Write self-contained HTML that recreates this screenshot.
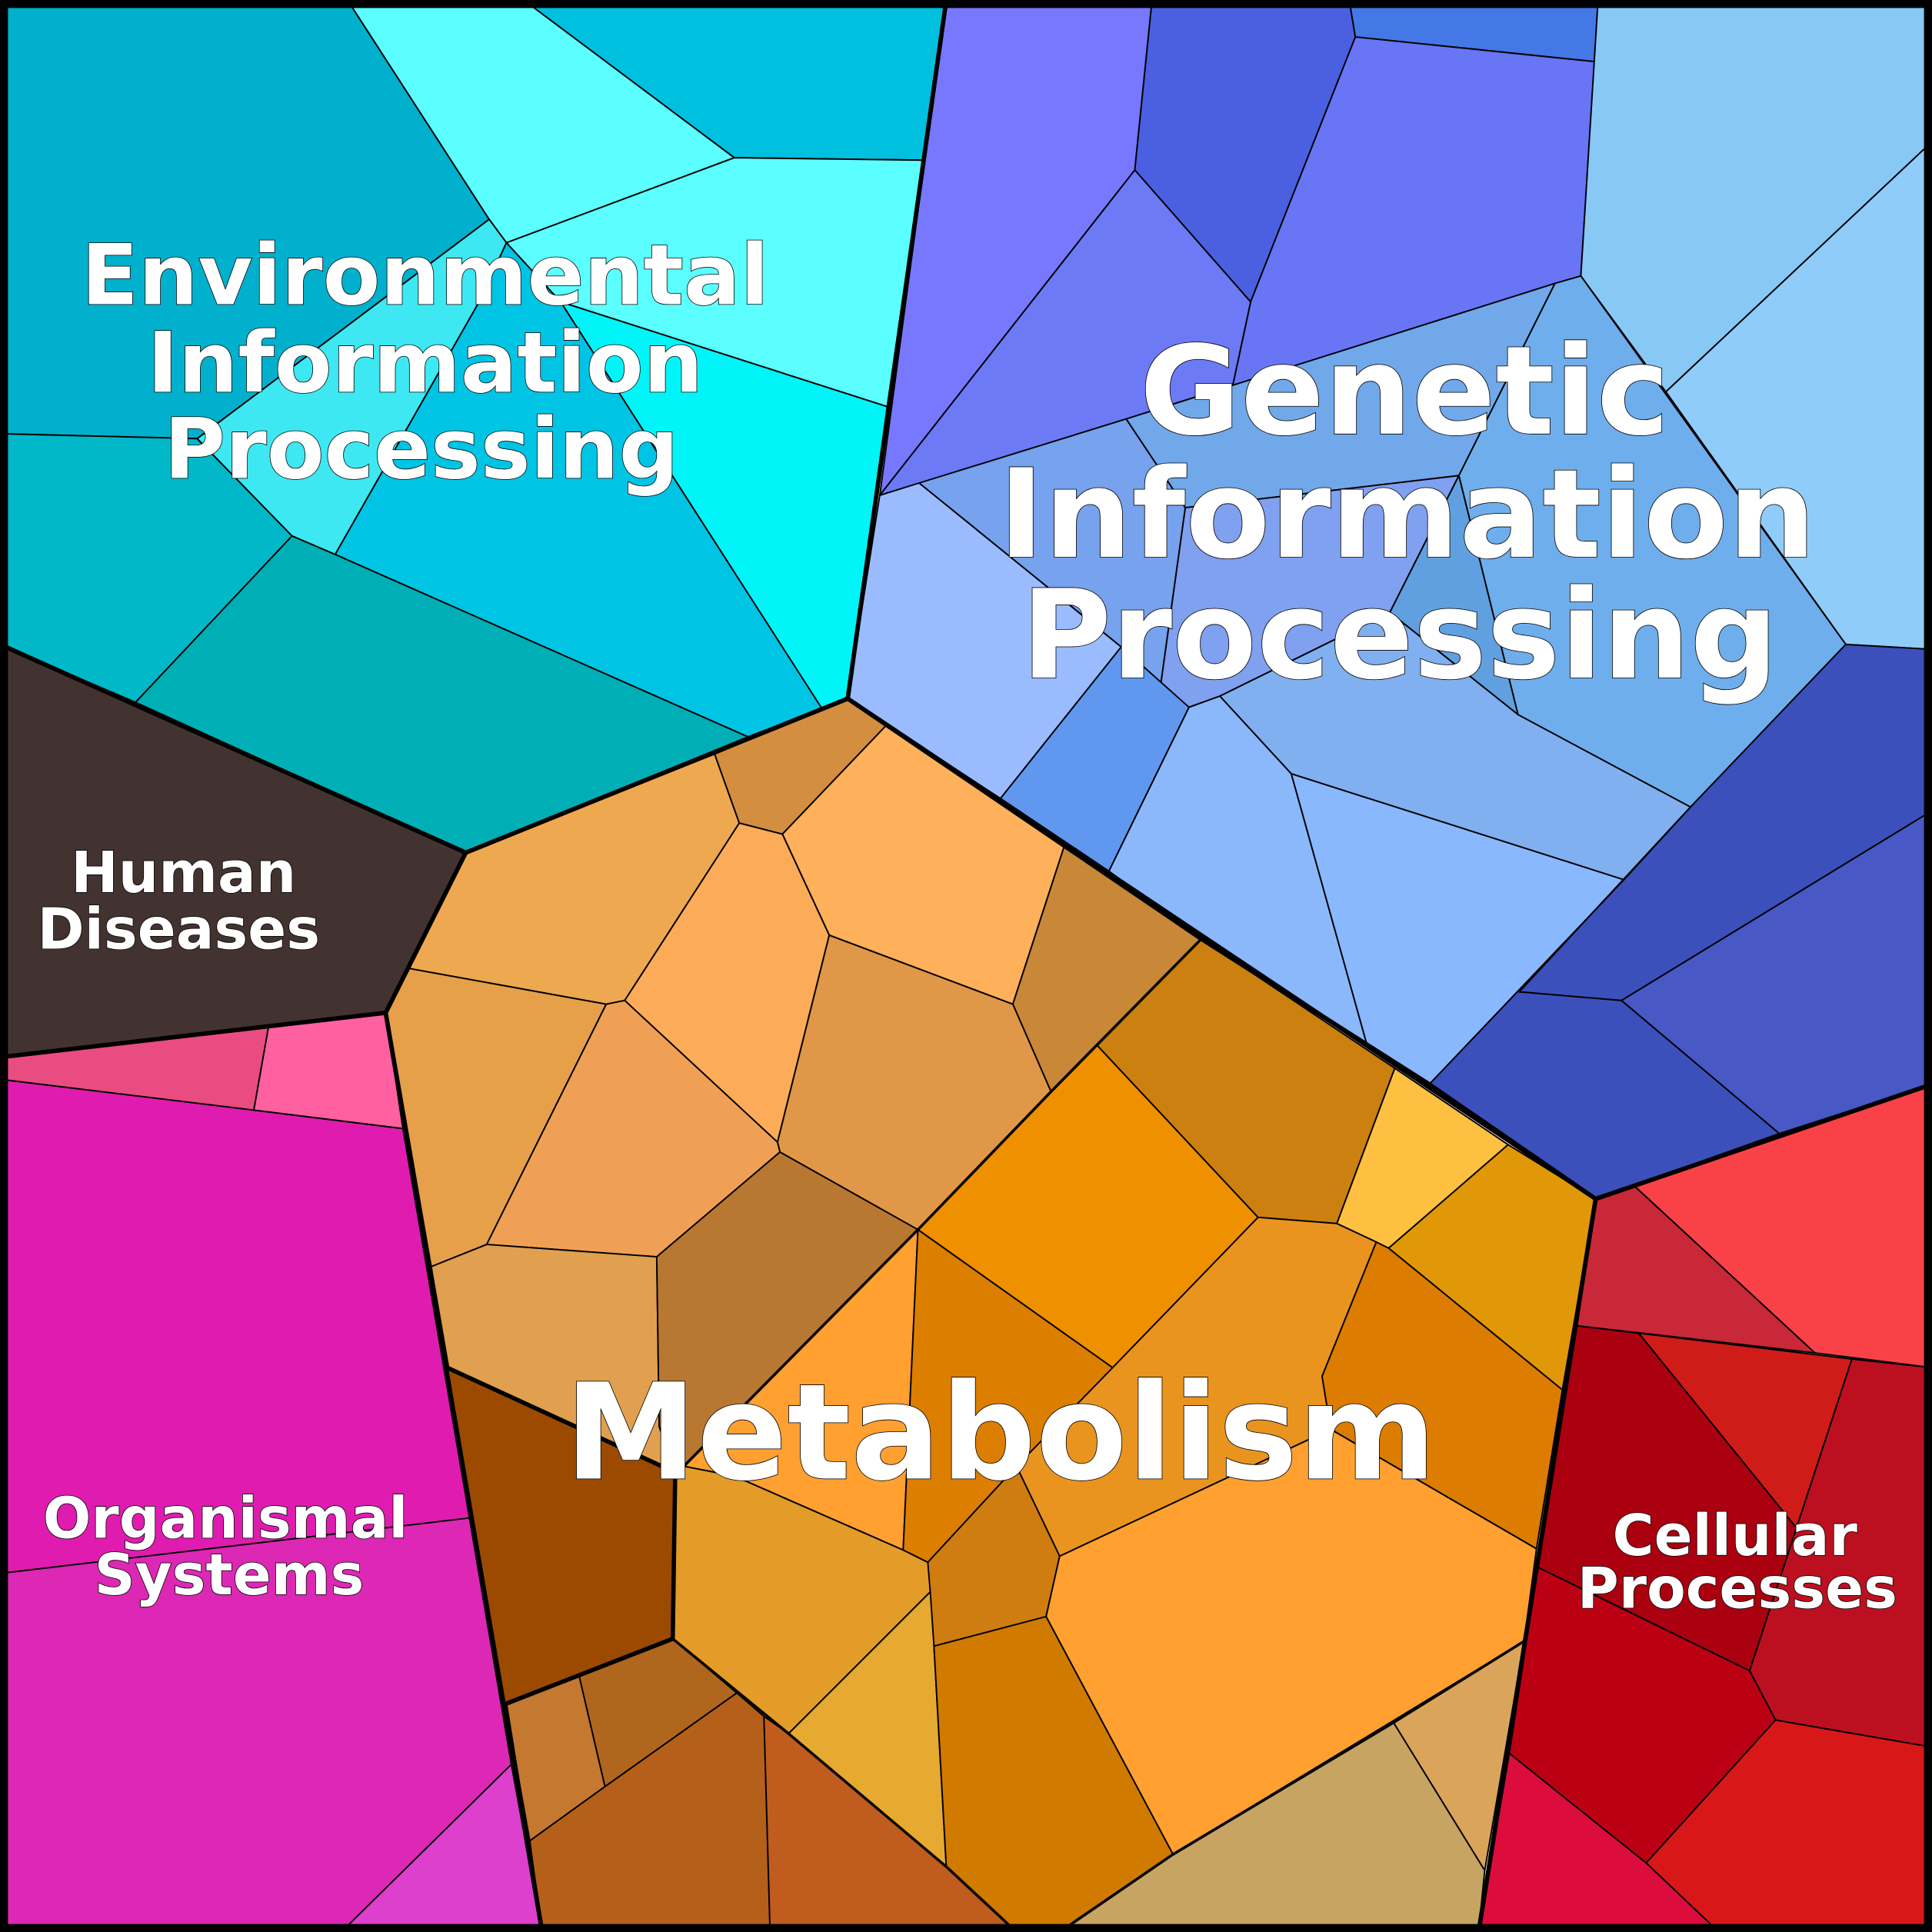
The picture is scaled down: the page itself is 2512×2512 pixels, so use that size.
<!DOCTYPE html>
<html><head><meta charset="utf-8"><style>
html,body{margin:0;padding:0;background:#fff}
svg{display:block}
.c polygon{stroke:#000;stroke-width:1.2;stroke-linejoin:round}
.m polygon{fill:none;stroke:#000;stroke-width:3.5;stroke-linejoin:round}
.m polyline{fill:none;stroke:#000;stroke-width:2.2;stroke-linejoin:round}
text{font-family:"DejaVu Sans","Liberation Sans",sans-serif;font-weight:bold;fill:#fff;stroke:#000;stroke-width:1;paint-order:stroke;text-anchor:middle}
</style></head><body>
<svg width="2512" height="2512" viewBox="0 0 1568 1568" xmlns="http://www.w3.org/2000/svg">
<g class="c">
<polygon fill="#00b0cc" points="0,0 282,0 397,178 160,356 0,352"/>
<polygon fill="#5cffff" points="282,0 425,0 596,128 411,197 397,178"/>
<polygon fill="#00c0e0" points="425,0 768,0 749,130 596,128"/>
<polygon fill="#5cffff" points="411,197 596,128 749,130 720,330 455,245"/>
<polygon fill="#00f5f8" points="455,245 720,330 688,567 667,575"/>
<polygon fill="#3de8f2" points="160,356 397,178 411,197 390,243 272,450 237,435"/>
<polygon fill="#00c4e4" points="390,243 411,197 455,245 667,575 607,598 272,450"/>
<polygon fill="#00b8c8" points="0,352 160,356 237,435 110,570 0,523"/>
<polygon fill="#00afb5" points="237,435 272,450 607,598 378,692 110,570"/>
<polygon fill="#7878ff" points="768,0 935,0 921,138 714,402"/>
<polygon fill="#4b60e0" points="935,0 1095,0 1100,30 1015,245 921,138"/>
<polygon fill="#4378e6" points="1095,0 1297,0 1294,50 1100,30"/>
<polygon fill="#6875f5" points="1100,30 1294,50 1283,224 1000,315 1015,245"/>
<polygon fill="#6c7af5" points="921,138 1015,245 1000,315 714,402"/>
<polygon fill="#88c8f5" points="1297,0 1568,0 1568,115 1352,318 1283,224"/>
<polygon fill="#90ccfa" points="1568,115 1568,527 1498,523 1352,318"/>
<polygon fill="#9abcff" points="714,402 746,392 910,525 812,648 688,567"/>
<polygon fill="#76a2ee" points="746,392 914,340 962,412 942,556 910,525"/>
<polygon fill="#70a8ea" points="914,340 1262,230 1184,386 962,412"/>
<polygon fill="#80a0f0" points="962,412 1184,386 1128,497 990,565 965,574 942,556"/>
<polygon fill="#6faeec" points="1262,230 1283,224 1498,523 1372,655 1232,580 1184,386"/>
<polygon fill="#60a0e0" points="1184,386 1232,580 1128,497"/>
<polygon fill="#80b0f0" points="990,565 1128,497 1232,580 1372,655 1318,714 1048,628"/>
<polygon fill="#6098f0" points="910,525 965,574 900,707 812,648"/>
<polygon fill="#8ab8fa" points="965,574 990,565 1048,628 1110,850 975,762 900,707"/>
<polygon fill="#8ab8ff" points="1048,628 1318,714 1160,880 1110,850"/>
<polygon fill="#3c50bc" points="1372,655 1498,523 1568,527 1568,658 1316,812 1233,805"/>
<polygon fill="#4858c4" points="1568,658 1568,880 1444,920 1316,812"/>
<polygon fill="#3c50bc" points="1233,805 1316,812 1444,920 1295,973 1160,880 1318,714 1372,655"/>
<polygon fill="#c82838" points="1295,973 1327,963 1473,1098 1280,1076"/>
<polygon fill="#f84248" points="1327,963 1568,880 1568,1110 1473,1098"/>
<polygon fill="#aa0010" points="1280,1076 1330,1082 1458,1240 1420,1356 1248,1272"/>
<polygon fill="#d01c18" points="1330,1082 1503,1103 1458,1240"/>
<polygon fill="#bc1020" points="1503,1103 1568,1110 1568,1418 1441,1396 1420,1356"/>
<polygon fill="#bc0014" points="1248,1272 1420,1356 1441,1396 1336,1512 1225,1423"/>
<polygon fill="#d81818" points="1441,1396 1568,1418 1568,1568 1395,1568 1336,1512"/>
<polygon fill="#dc0c3c" points="1225,1423 1336,1512 1395,1568 1200,1568"/>
<polygon fill="#433330" points="0,523 378,692 313,822 0,858"/>
<polygon fill="#e84c80" points="0,858 218,833 206,901 0,876"/>
<polygon fill="#ff60a0" points="218,833 313,822 327,916 206,901"/>
<polygon fill="#e01cb0" points="0,876 206,901 327,916 381,1232 0,1277"/>
<polygon fill="#dc28b4" points="0,1277 381,1232 415,1432 277,1568 0,1568"/>
<polygon fill="#dc40cc" points="415,1432 440,1568 277,1568"/>
<polygon fill="#eea850" points="378,692 580,612 600,668 507,812 492,815 332,786"/>
<polygon fill="#d48e40" points="580,612 688,567 719,589 635,677 600,668"/>
<polygon fill="#ffb05a" points="719,589 864,686 822,815 673,759 635,677"/>
<polygon fill="#fcac58" points="600,668 635,677 673,759 631,927 507,812"/>
<polygon fill="#c88838" points="864,686 975,762 853,886 822,815"/>
<polygon fill="#e09848" points="673,759 822,815 853,886 745,998 633,935 631,927"/>
<polygon fill="#e6a04a" points="332,786 492,815 395,1010 350,1028 313,822"/>
<polygon fill="#f0a055" points="492,815 507,812 631,927 633,935 533,1020 395,1010"/>
<polygon fill="#e0a050" points="350,1028 395,1010 533,1020 535,1158 548,1195 363,1110"/>
<polygon fill="#b87832" points="533,1020 633,935 745,998 555,1190 535,1158"/>
<polygon fill="#9c4a00" points="363,1110 548,1195 546,1330 410,1383"/>
<polygon fill="#cc8010" points="975,762 1132,867 1085,993 1021,988 890,848"/>
<polygon fill="#ee9000" points="890,848 1021,988 903,1110 745,998"/>
<polygon fill="#fdc040" points="1132,867 1224,929 1127,1013 1085,993"/>
<polygon fill="#e09808" points="1224,929 1295,973 1268,1128 1127,1013"/>
<polygon fill="#ea9420" points="1021,988 1085,993 1117,1008 1073,1117 1080,1160 860,1263 825,1190 903,1110"/>
<polygon fill="#dc7c00" points="1117,1008 1127,1013 1268,1128 1247,1257 1080,1160 1073,1117"/>
<polygon fill="#ffa030" points="745,998 733,1258 596,1198 555,1190"/>
<polygon fill="#dc7e00" points="745,998 903,1110 825,1190 753,1268 733,1258"/>
<polygon fill="#cf7d10" points="753,1268 825,1190 860,1263 849,1312 758,1336"/>
<polygon fill="#ffa030" points="860,1263 1080,1160 1247,1257 1237,1332 952,1505 849,1312"/>
<polygon fill="#e39c28" points="548,1195 555,1190 596,1198 733,1258 753,1268 755,1292 640,1407 546,1330"/>
<polygon fill="#e6aa30" points="755,1292 758,1336 768,1515 640,1407"/>
<polygon fill="#d07a00" points="758,1336 849,1312 952,1505 860,1568 825,1568 768,1515"/>
<polygon fill="#c8a462" points="952,1505 1131,1398 1205,1518 1200,1568 860,1568"/>
<polygon fill="#daa55a" points="1131,1398 1237,1332 1205,1518"/>
<polygon fill="#c47830" points="410,1383 470,1360 491,1450 430,1494"/>
<polygon fill="#b0661c" points="470,1360 546,1330 598,1374 491,1450"/>
<polygon fill="#b4601a" points="430,1494 491,1450 598,1374 620,1393 625,1568 440,1568"/>
<polygon fill="#c05c1e" points="620,1393 640,1407 768,1515 825,1568 625,1568"/>
</g>
<g class="m">
<polygon points="0,0 768,0 688,567 378,692 0,523"/>
<polygon points="0,523 378,692 313,822 0,858"/>
<polygon points="0,858 313,822 440,1568 0,1568"/>
<polygon points="378,692 688,567 975,762 1160,880 1295,973 1200,1568 440,1568 410,1383 546,1330 548,1195 363,1110 313,822"/>
<polygon points="768,0 1568,0 1568,880 1295,973 688,567"/>
<polygon points="1295,973 1568,880 1568,1568 1200,1568"/>
<polyline points="975,762 853,886 745,998 555,1190 548,1195"/>
<polyline points="546,1330 640,1407 768,1515 825,1568"/>
<polyline points="1237,1332 1131,1398 952,1505 860,1568"/>
</g>
<rect x="3" y="3" width="1562" height="1562" fill="none" stroke="#000" stroke-width="7"/>
<g>
<text x="345" y="247" font-size="68">Environmental</text>
<text x="345" y="318" font-size="68">Information</text>
<text x="342" y="388" font-size="68">Processing</text>
<text x="1140" y="352" font-size="100" stroke-width="1.5">Genetic</text>
<text x="1142" y="452" font-size="100" stroke-width="1.5">Information</text>
<text x="1136" y="550" font-size="100" stroke-width="1.5">Processing</text>
<text x="812" y="1200" font-size="108" stroke-width="1.5">Metabolism</text>
<text x="149" y="724" font-size="46">Human</text>
<text x="145" y="770" font-size="46">Diseases</text>
<text x="183" y="1248" font-size="46">Organismal</text>
<text x="186" y="1294" font-size="46">Systems</text>
<text x="1408" y="1262" font-size="46">Cellular</text>
<text x="1410" y="1305" font-size="46">Processes</text>
</g>
</svg>
</body></html>
